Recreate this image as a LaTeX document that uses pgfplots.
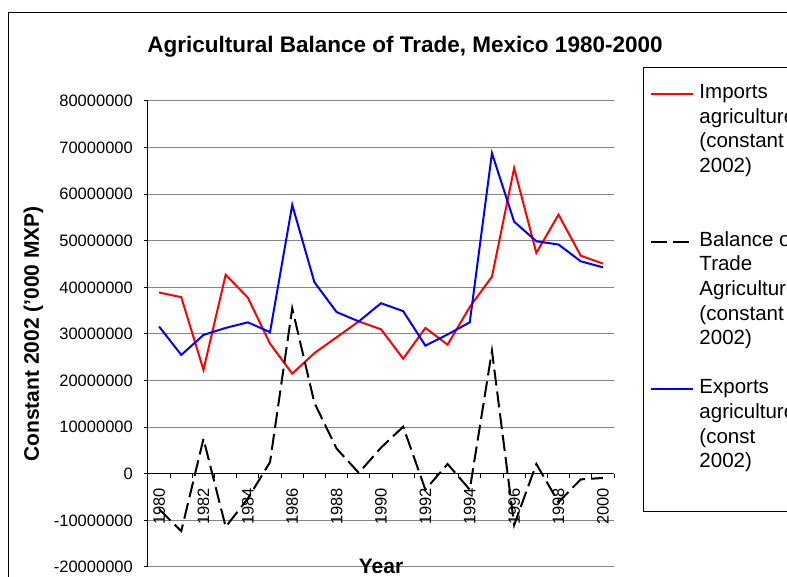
\documentclass[border=0pt]{standalone}
\usepackage{pgfplots}
\pgfplotsset{compat=1.18}
\usepackage{fontspec}
\setmainfont{Liberation Sans}

\definecolor{gridgray}{RGB}{134,134,134}
\definecolor{xlred}{RGB}{255,0,0}
\definecolor{xlblue}{RGB}{0,0,255}

\begin{document}
\begin{tikzpicture}
\useasboundingbox (0pt,0pt) rectangle (787pt,577pt);
\clip (0pt,0pt) rectangle (787pt,577pt);
% outer chart frame (continues past the right and bottom edges)
\draw[black, line width=1pt] (8.5pt,564pt) rectangle (830pt,-30pt);
\begin{axis}[
  at={(148pt,10pt)}, anchor=south west,
  scale only axis, width=466pt, height=466pt,
  xmin=1979.5, xmax=2000.5,
  ymin=-20000000, ymax=80000000,
  scaled y ticks=false,
  axis x line=middle, axis y line=left,
  axis line style={-, black, line width=1pt},
  hide obscured x ticks=false, hide obscured y ticks=false,
  tick align=outside,
  major tick length=0pt, minor tick length=4.5pt,
  tick style={black, line width=1pt},
  xtick={1980,1982,...,2000},
  xticklabels={1980,1982,1984,1986,1988,1990,1992,1994,1996,1998,2000},
  minor xtick={1979.5,1980.5,...,2000.5},
  ytick={-20000000,-10000000,0,10000000,20000000,30000000,40000000,50000000,60000000,70000000,80000000},
  yticklabels={-20000000,-10000000,0,10000000,20000000,30000000,40000000,50000000,60000000,70000000,80000000},
  minor ytick={-20000000,-10000000,0,10000000,20000000,30000000,40000000,50000000,60000000,70000000,80000000},
  ymajorgrids=true,
  major grid style={gridgray, line width=1pt},
  ticklabel style={font=\fontsize{16.5}{19.8}\selectfont, inner sep=0pt},
  xticklabel style={rotate=90, anchor=east},
  xticklabel shift=14pt,
  yticklabel style={anchor=east},
  yticklabel shift=15pt,
  title={Agricultural Balance of Trade, Mexico 1980-2000},
  title style={font=\bfseries\fontsize{22.5}{27}\selectfont, at={(axis description cs:0.5515,1.0902)}, anchor=base, inner sep=0pt},
  xlabel={Year},
  xlabel style={font=\bfseries\fontsize{21}{25}\selectfont, at={(axis description cs:0.5,-0.0129)}, anchor=base, inner sep=0pt},
  ylabel={Constant 2002 ('000 MXP)},
  ylabel style={font=\bfseries\fontsize{21}{25}\selectfont, at={(axis description cs:-0.2457,0.5)}, anchor=center, inner sep=0pt},
  legend style={at={(axis description cs:1.0622,1.0730)}, anchor=north west,
    draw=black, line width=1pt, fill=white,
    inner xsep=7pt, inner ysep=13pt, row sep=0pt, column sep=5pt,
    font=\fontsize{20.5}{24.6}\selectfont,
    nodes={inner sep=0pt, text height=18.3pt, text depth=6.3pt}},
  legend cell align=left,
  legend image code/.code={\draw[#1] (-1pt,-1.5pt) -- (41pt,-1.5pt);},
]
% imports of agricultural goods, constant 2002 ('000 MXP)
\addplot[xlred, line width=2pt, forget plot] coordinates {
  (1980,38900000) (1981,37900000) (1982,22300000) (1983,42700000) (1984,37800000)
  (1985,27900000) (1986,21500000) (1987,25900000) (1988,29300000) (1989,32700000)
  (1990,31000000) (1991,24700000) (1992,31300000) (1993,27700000) (1994,35800000)
  (1995,42300000) (1996,65600000) (1997,47400000) (1998,55600000) (1999,46800000)
  (2000,45100000)};
% balance of trade, agriculture
\addplot[black, line width=2pt, dash pattern=on 16pt off 6pt, forget plot] coordinates {
  (1980,-7600000) (1981,-12300000) (1982,7500000) (1983,-11400000) (1984,-5300000)
  (1985,2500000) (1986,35500000) (1987,15200000) (1988,5400000) (1989,200000)
  (1990,5600000) (1991,10100000) (1992,-3400000) (1993,2100000) (1994,-3400000)
  (1995,26400000) (1996,-11000000) (1997,2100000) (1998,-6100000) (1999,-1200000)
  (2000,-900000)};
% exports of agricultural goods
\addplot[xlblue, line width=2pt, forget plot] coordinates {
  (1980,31600000) (1981,25500000) (1982,29800000) (1983,31300000) (1984,32500000)
  (1985,30400000) (1986,57700000) (1987,41100000) (1988,34700000) (1989,32700000)
  (1990,36600000) (1991,34900000) (1992,27500000) (1993,29900000) (1994,32500000)
  (1995,68800000) (1996,54100000) (1997,49900000) (1998,49200000) (1999,45600000)
  (2000,44300000)};
% legend rows: one sample line per series, continuation lines without a sample
\addlegendimage{xlred, line width=2pt}\addlegendentry{Imports}
\addlegendimage{empty legend}\addlegendentry{agriculture}
\addlegendimage{empty legend}\addlegendentry{(constant}
\addlegendimage{empty legend}\addlegendentry{2002)}
\addlegendimage{empty legend}\addlegendentry{\mbox{}}
\addlegendimage{empty legend}\addlegendentry{\mbox{}}
\addlegendimage{black, line width=2pt, dash pattern=on 16pt off 6pt}\addlegendentry{Balance of}
\addlegendimage{empty legend}\addlegendentry{Trade}
\addlegendimage{empty legend}\addlegendentry{Agriculture}
\addlegendimage{empty legend}\addlegendentry{(constant}
\addlegendimage{empty legend}\addlegendentry{2002)}
\addlegendimage{empty legend}\addlegendentry{\mbox{}}
\addlegendimage{xlblue, line width=2pt}\addlegendentry{Exports}
\addlegendimage{empty legend}\addlegendentry{agriculture}
\addlegendimage{empty legend}\addlegendentry{(const}
\addlegendimage{empty legend}\addlegendentry{2002)}
\addlegendimage{empty legend}\addlegendentry{\mbox{}}
\end{axis}
\end{tikzpicture}
\end{document}
